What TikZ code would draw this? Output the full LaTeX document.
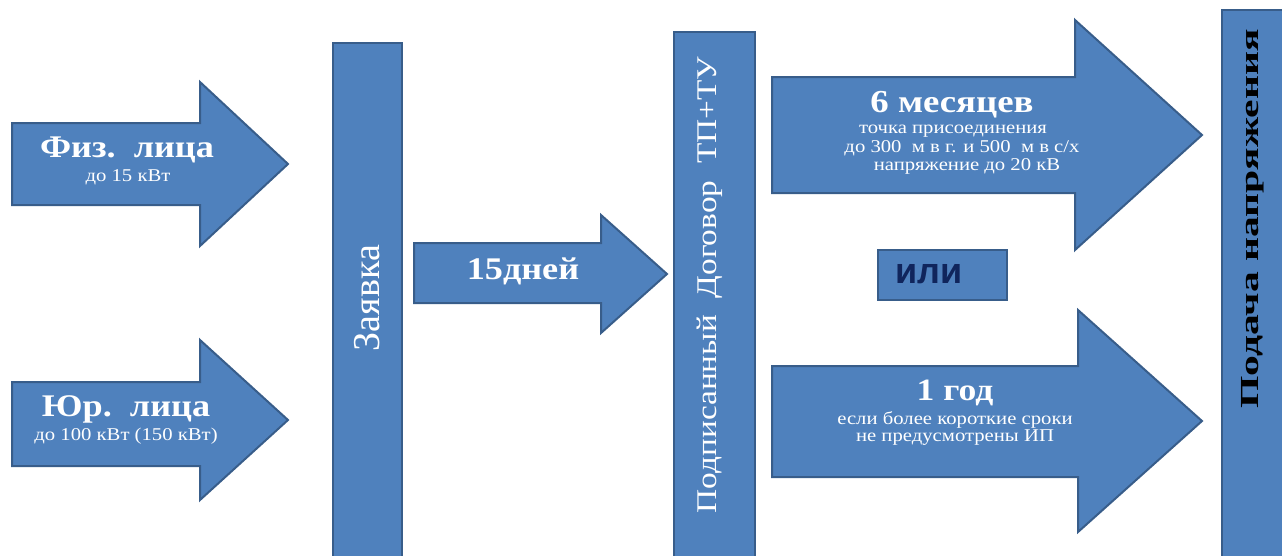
\documentclass[tikz,border=0pt]{standalone}
\usepackage{fontspec}
\setmainfont{Liberation Serif}
\newfontfamily\wideserif[FakeStretch=1.15]{Liberation Serif}
\newfontfamily\midserif[FakeStretch=1.17]{Liberation Serif}
\newfontfamily\tallserif[FakeStretch=1.6]{Liberation Serif}
\newfontfamily\orsans{Liberation Sans}
\definecolor{blu}{RGB}{79,129,189}
\definecolor{bluedge}{RGB}{56,93,138}
\definecolor{navy}{RGB}{16,37,92}

\begin{document}
\begin{tikzpicture}[x=1pt, y=-1pt, blk/.style={fill=blu, draw=bluedge, line width=2pt},
	lbl/.style={text=white, inner sep=0pt, anchor=base}, big/.style={font=\wideserif\bfseries\fontsize{31.5}{33}\selectfont},
	small/.style={font=\wideserif\fontsize{18}{20}\selectfont}]
			\useasboundingbox (0,0) rectangle (1282,555);
			
			\draw[blk] (12,123) -- (200,123) -- (200,82) -- (288,164) -- (200,246) -- (200,205) -- (12,205) -- cycle;
			\draw[blk] (12,382) -- (200,382) -- (200,340) -- (288,420) -- (200,500) -- (200,466) -- (12,466) -- cycle;
			\draw[blk] (333,43) rectangle (402,560);
			\draw[blk] (414,243) -- (601,243) -- (601,215) -- (667,274) -- (601,333) -- (601,303) -- (414,303) -- cycle;
			\draw[blk] (674,32) rectangle (755,560);
			\draw[blk] (772,77) -- (1075,77) -- (1075,20) -- (1202,135) -- (1075,250) -- (1075,193) -- (772,193) -- cycle;
			\draw[blk] (878,250) rectangle (1007,300);
			\draw[blk] (772,366) -- (1078,366) -- (1078,310) -- (1202,421) -- (1078,532) -- (1078,477) -- (772,477) -- cycle;
			\draw[blk] (1222,10) rectangle (1295,560);
			
			\node[lbl, big] (fiz) at (127,157) {Физ.\ \ лица};
			\node[lbl, small] (fizsub) at (128,181) {до 15 кВт};
			\node[lbl, big] (yur) at (126,416) {Юр.\ \ лица};
			\node[lbl, small] (yursub) at (126,440) {до 100 кВт (150 кВт)};
			
			\node[text=white, rotate=90, font=\fontsize{38}{40}\selectfont] (zayavka) at (367,298) {Заявка};
			\node[lbl, font=\wideserif\bfseries\fontsize{31.5}{33}\selectfont] (dney) at (523,279) {15дней};
			\node[text=white, rotate=90, font=\midserif\fontsize{28.5}{31}\selectfont] (dogovor) at (710,285) {Подписанный\ \ Договор\ \ ТП+ТУ};
			
			\node[lbl, font=\wideserif\bfseries\fontsize{32}{34}\selectfont] (six) at (952,112) {6 месяцев};
			\node[lbl, small] (sixa) at (953,133) {точка присоединения};
			\node[lbl, small] (sixb) at (962,152) {до 300\ \ м в г. и 500\ \ м в с/х};
			\node[lbl, small] (sixc) at (967,170) {напряжение до 20 кВ};
			
			\node[anchor=base, inner sep=0pt, text=navy, font=\orsans\bfseries\fontsize{36}{38}\selectfont] (ili) at (929,283) {или};
			
			\node[lbl, font=\wideserif\bfseries\fontsize{31}{33}\selectfont] (god) at (955,400) {1 год};
			\node[lbl, small] (goda) at (955,424) {если более короткие сроки};
			\node[lbl, small] (godb) at (955,441) {не предусмотрены ИП};
			
			\node[rotate=90, font=\tallserif\bfseries\fontsize{26}{28}\selectfont] (podacha) at (1253,219) {Подача напряжения};
\end{tikzpicture}
\end{document}
